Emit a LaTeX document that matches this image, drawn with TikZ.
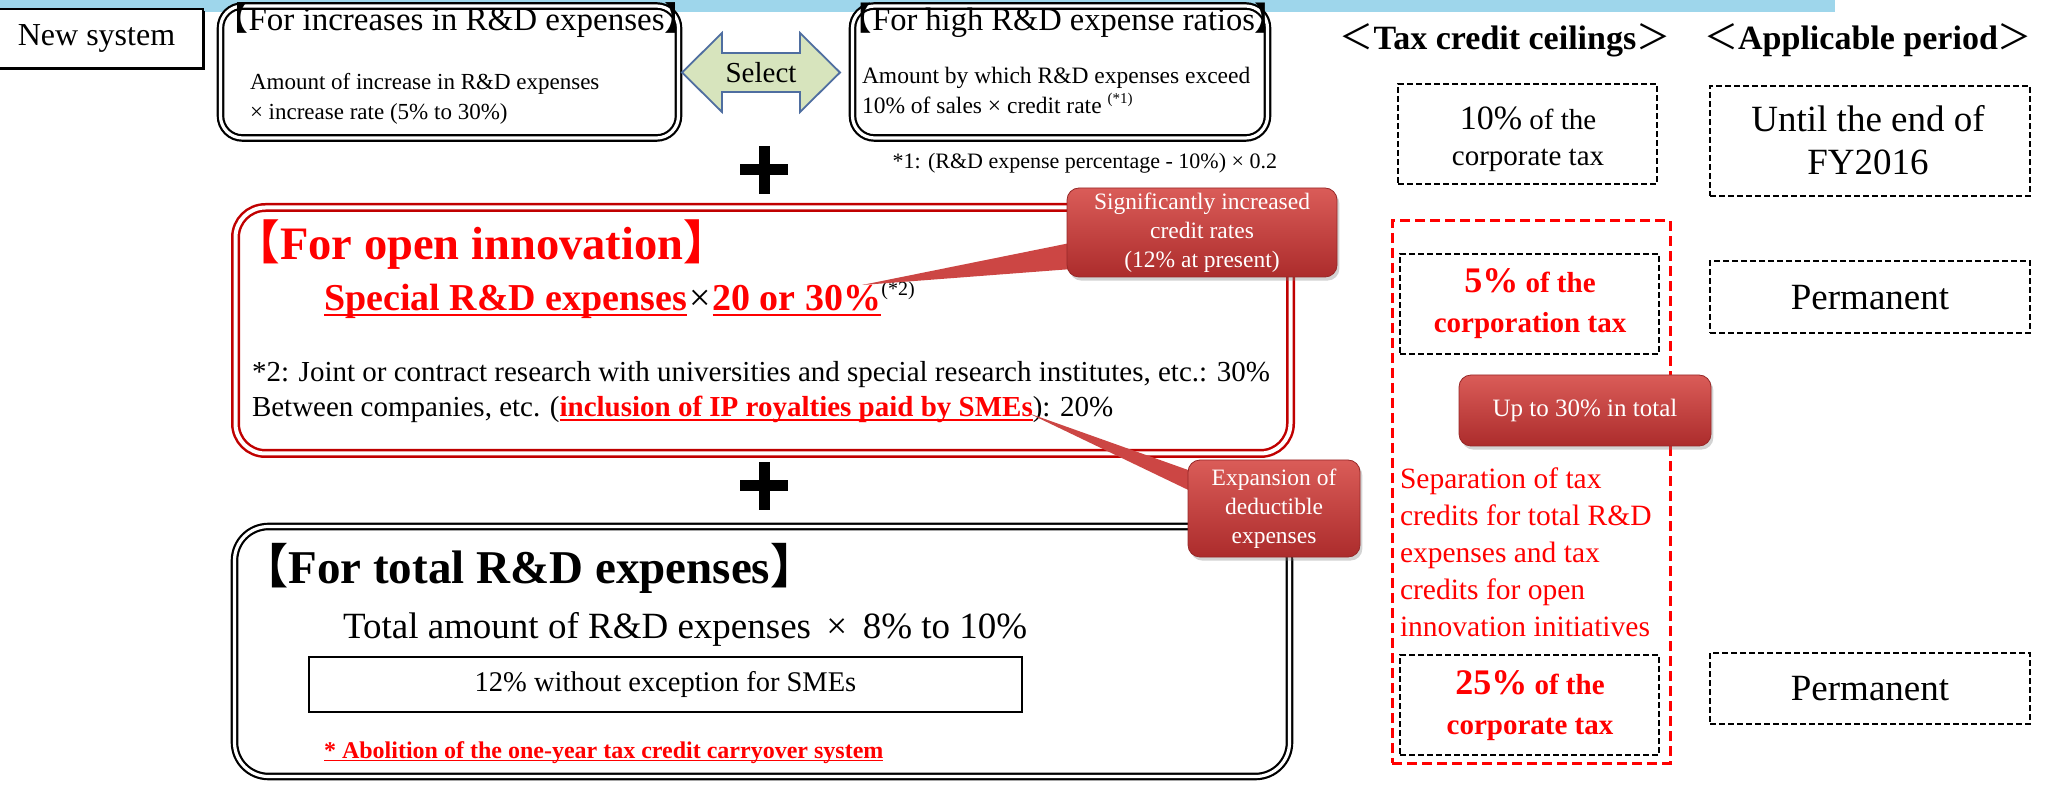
\documentclass[tikz,border=0pt]{standalone}
\usepackage{fontspec}
\setmainfont{Liberation Serif}
\newfontfamily\cjk[RawFeature=+halt]{Noto Sans CJK JP}
\usetikzlibrary{shadows}
\definecolor{barblue}{RGB}{158,214,235}
\definecolor{arrowfill}{RGB}{215,228,189}
\definecolor{arrowline}{RGB}{79,110,160}
\definecolor{oired}{RGB}{192,0,0}
\definecolor{calltop}{RGB}{218,92,88}
\definecolor{callbot}{RGB}{172,44,44}
\definecolor{callline}{RGB}{150,40,40}
\definecolor{wedgered}{RGB}{204,70,68}
\newcommand{\lbk}{{\cjk 【}}
\newcommand{\rbk}{{\cjk 】}}
\newcommand{\lang}{{\mdseries\cjk ＜}}
\newcommand{\rang}{{\mdseries\cjk ＞}}
\newsavebox{\ulbox}
\newcommand{\myul}[1]{\sbox{\ulbox}{#1}\rlap{\rule[-0.14em]{\wd\ulbox}{0.065em}}\usebox{\ulbox}}
\tikzset{
  fnt/.style={font={\fontsize{#1}{#1}\selectfont}},
  txt/.style={anchor=base west},
  ctxt/.style={anchor=base},
  dbox/.style={draw=black, double=white, line width=1.1pt, double distance=1.6pt, rounded corners=11pt, fill=white},
  rbox/.style={draw=oired, double=white, line width=1.25pt, double distance=2pt, rounded corners=15pt, fill=white},
  dashbox/.style={draw=black, line width=0.9pt, dash pattern=on 3pt off 1.5pt},
  callout/.style={draw=callline, line width=0.4pt, rounded corners=6pt, top color=calltop, bottom color=callbot,
    text=white, align=center, font={\fontsize{11.75pt}{14.5pt}\selectfont},
    drop shadow={shadow xshift=1.2pt, shadow yshift=-1.8pt, opacity=0.35}},
  wedge/.style={fill=wedgered},
  plus/.style={line width=5.5pt},
}
\begin{document}
\begin{tikzpicture}[x=0.5pt,y=-0.5pt, every node/.style={inner sep=0pt,outer sep=0pt}]
\useasboundingbox (0,0) rectangle (2049,785);
\fill[barblue] (0,0) rectangle (1835,12);

% New system
\node[draw=black, line width=1pt, fill=white, fnt=16pt,
  drop shadow={shadow xshift=1.2pt, shadow yshift=-1.2pt, opacity=1, fill=black},
  minimum width=106.5pt, minimum height=29.5pt] (newsys) at (96.5,38.5) {New system};

% increases box
\node[dbox, minimum width=229pt, minimum height=66pt] (inc) at (449.5,72) {};
\node[txt, fnt=16.5pt] (inct) at (232,31) {\lbk For increases in R\&D expenses\rbk};
\node[txt, fnt=11.5pt] (inc1) at (250,90) {Amount of increase in R\&D expenses};
\node[txt, fnt=11.5pt] (inc2) at (250,120) {× increase rate (5\% to 30\%)};

% select arrow
\draw[fill=arrowfill, draw=arrowline, line width=0.9pt]
  (682,72.5) -- (722,33) -- (722,53) -- (800,53) -- (800,33) -- (840,72.5)
  -- (800,112) -- (800,92) -- (722,92) -- (722,112) -- cycle;
\node[fnt=14.5pt] (sel) at (761,72.5) {Select};

% high ratio box
\node[dbox, minimum width=207.5pt, minimum height=66pt] (rat) at (1060,72) {};
\node[txt, fnt=16.25pt] (ratt) at (856,31) {\lbk For high R\&D expense ratios\rbk};
\node[txt, fnt=11.75pt] (rat1) at (862,84) {Amount by which R\&D expenses exceed};
\node[txt, fnt=11.75pt] (rat2) at (862,114) {10\% of sales × credit rate \raisebox{0.45em}{\fontsize{7.5pt}{8pt}\selectfont(*1)}};
\node[anchor=base east, fnt=11pt] (fn1) at (1277,169) {*1: (R\&D expense percentage - 10\%) × 0.2};

% plus signs
\draw[plus] (740,170) -- (788,170) (764,146) -- (764,194);
\draw[plus] (740,486) -- (788,486) (764,462) -- (764,510);

% open innovation box
\node[rbox, minimum width=527.5pt, minimum height=123pt] (oi) at (763,330.5) {};
\node[txt, fnt=23.25pt, text=red] (oit) at (257,260) {\bfseries\lbk For open innovation\rbk};
\node[txt, fnt=19pt, text=red] (oif) at (324,311) {\bfseries\myul{Special R\&D expenses}{\color{black}\mdseries\kern1pt×\kern1pt}\myul{20 or 30\%}\raisebox{0.42em}{\color{black}\mdseries\fontsize{10pt}{10pt}\selectfont(*2)}};
\node[txt, fnt=14.5pt] (oin1) at (252,382) {*2: Joint or contract research with universities and special research institutes, etc.: 30\%};
\node[txt, fnt=14.5pt] (oin2) at (252,417) {Between companies, etc. ({\color{red}\bfseries\myul{inclusion of IP royalties paid by SMEs}}): 20\%};

% total box
\node[dbox, rounded corners=17pt, minimum width=527.5pt, minimum height=125pt] (tot) at (762,651.5) {};
\node[txt, fnt=23.5pt] (tott) at (265,583) {\bfseries\lbk For total R\&D expenses\rbk};
\node[txt, fnt=18.5pt] (tot1) at (343,638) {Total amount of R\&D expenses\ \,×\ \,8\% to 10\%};
\node[draw=black, line width=1pt, minimum width=356.5pt, minimum height=27.5pt, fnt=14.25pt] (sme) at (665.5,684.5) {12\% without exception for SMEs};
\node[txt, fnt=12pt, text=red] (abol) at (324,758) {\bfseries\myul{* Abolition of the one-year tax credit carryover system}};

% callouts
\coordinate (w1a) at (1085,240);
\coordinate (w1b) at (1085,268);
\coordinate (w1t) at (862,285);
\fill[wedge] (w1a) -- (w1t) -- (w1b) -- cycle;
\node[callout, minimum width=135pt, minimum height=44.5pt] (c1) at (1202,232.5) {Significantly increased\\credit rates\\(12\% at present)};

\coordinate (w2a) at (1205,476);
\coordinate (w2b) at (1205,498);
\coordinate (w2t) at (1028,413);
\fill[wedge] (w2a) -- (w2t) -- (w2b) -- cycle;
\node[callout, minimum width=86pt, minimum height=48.5pt] (c2) at (1274,508.5) {Expansion of\\deductible\\expenses};

% right columns
\node[ctxt, fnt=17pt] (hdrtax) at (1505,50) {\bfseries\lang Tax credit ceilings\rang};
\node[ctxt, fnt=17pt] (hdrper) at (1868,50) {\bfseries\lang Applicable period\rang};

\node[dashbox, minimum width=129.5pt, minimum height=50pt] (ba) at (1527.5,134) {};
\node[ctxt, fnt=14.5pt] (ba1) at (1528,130) {{\fontsize{17pt}{17pt}\selectfont 10\%} of the};
\node[ctxt, fnt=14.5pt] (ba2) at (1528,166) {corporate tax};

\node[dashbox, minimum width=160pt, minimum height=55pt] (bb) at (1870,141) {};
\node[ctxt, fnt=18.5pt] (bb1) at (1868,132) {Until the end of};
\node[ctxt, fnt=18.5pt] (bb2) at (1868,175) {FY2016};

\node[draw=red, line width=1.5pt, dash pattern=on 5pt off 2.5pt, minimum width=139pt, minimum height=271pt] (rb) at (1531,492) {};

\node[dashbox, minimum width=129.5pt, minimum height=50pt] (bc) at (1529.5,304) {};
\node[ctxt, fnt=14.5pt, text=red] (bc1) at (1530,293) {\bfseries{\fontsize{18pt}{18pt}\selectfont 5\%} of the};
\node[ctxt, fnt=14.5pt, text=red] (bc2) at (1530,333) {\bfseries corporation tax};

\node[dashbox, minimum width=160pt, minimum height=36pt] (pa) at (1870,297) {};
\node[ctxt, fnt=18.5pt] (pat) at (1870,310) {Permanent};

\node[callout, font={\fontsize{12.5pt}{14pt}\selectfont}, minimum width=126pt, minimum height=35.5pt] (btn) at (1585,410.5) {Up to 30\% in total};

\node[txt, fnt=14.75pt, text=red] (s1) at (1400,488) {Separation of tax};
\node[txt, fnt=14.75pt, text=red] (s2) at (1400,525) {credits for total R\&D};
\node[txt, fnt=14.75pt, text=red] (s3) at (1400,562) {expenses and tax};
\node[txt, fnt=14.75pt, text=red] (s4) at (1400,599) {credits for open};
\node[txt, fnt=14.75pt, text=red] (s5) at (1400,636) {innovation initiatives};

\node[dashbox, minimum width=129.5pt, minimum height=50pt] (bd) at (1529.5,705) {};
\node[ctxt, fnt=14.5pt, text=red] (bd1) at (1530,694) {\bfseries{\fontsize{18pt}{18pt}\selectfont 25\%} of the};
\node[ctxt, fnt=14.5pt, text=red] (bd2) at (1530,734) {\bfseries corporate tax};

\node[dashbox, minimum width=160pt, minimum height=35.5pt] (pb) at (1870,688.5) {};
\node[ctxt, fnt=18.5pt] (pbt) at (1870,700) {Permanent};
\end{tikzpicture}
\end{document}
